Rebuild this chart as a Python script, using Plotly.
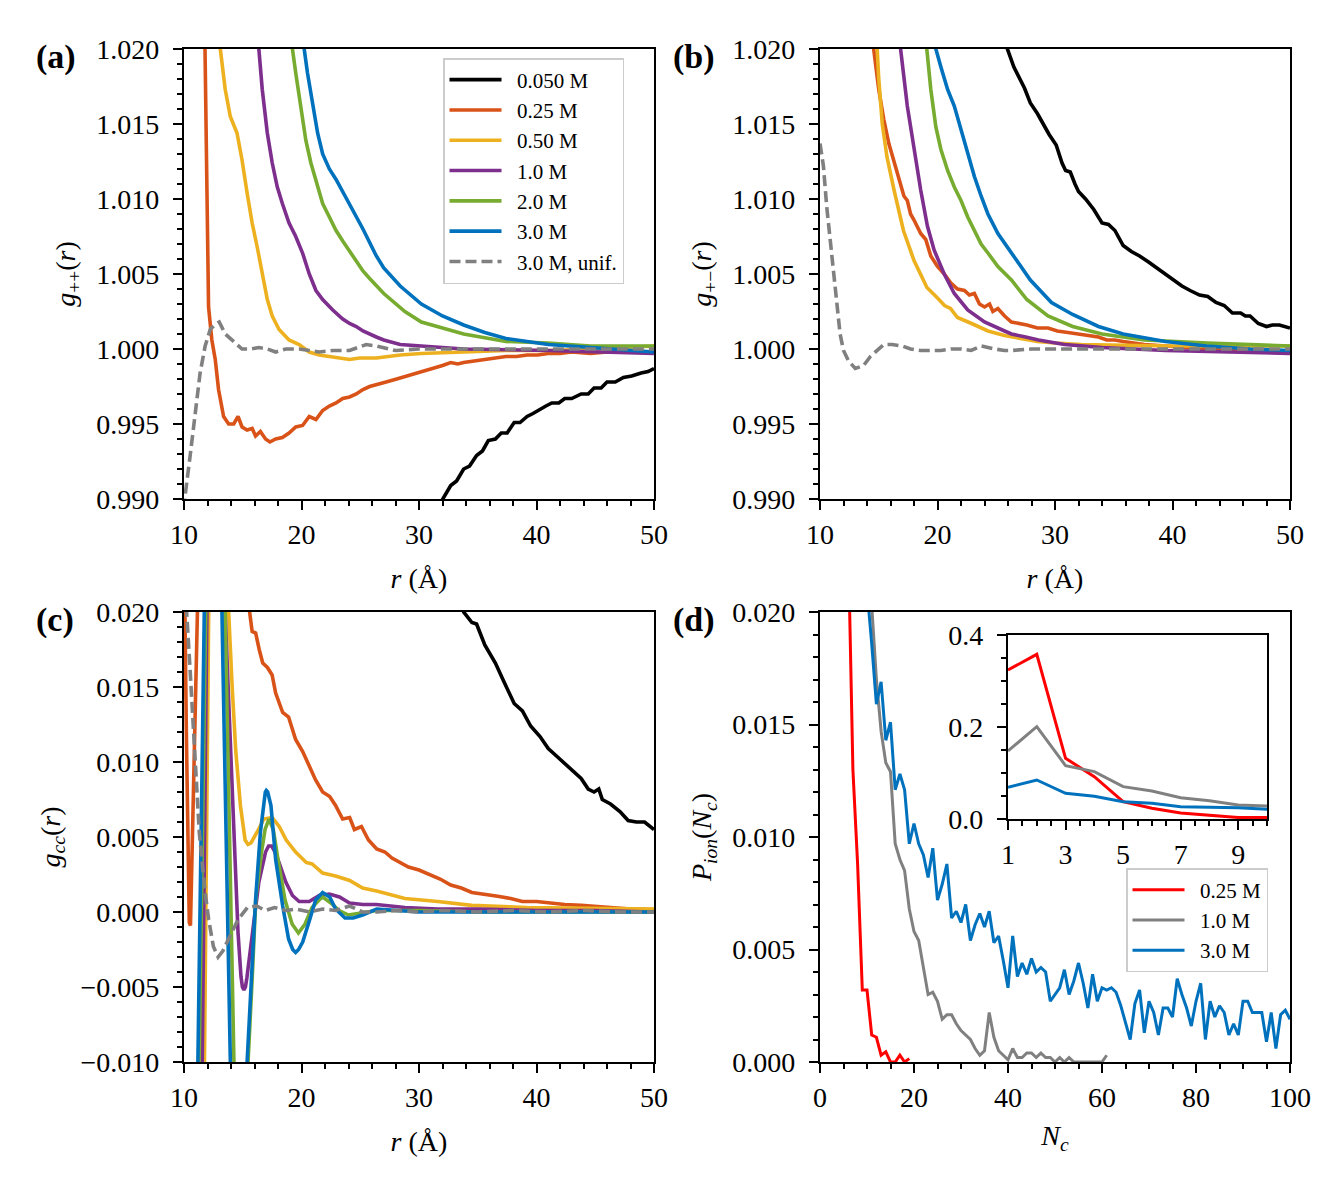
import plotly.graph_objects as go

# ---------------- data: panel (a) g_{++}(r) ----------------
A_R_BLACK = [31.8, 32.3, 32.7, 33.2, 33.8, 34.3, 34.9, 35.4, 35.9, 36.5, 37.0, 37.5, 38.1, 38.6, 39.2, 39.7, 40.3, 40.8, 41.3, 41.9, 42.4, 43.0, 43.8, 44.4, 44.9, 45.5, 46.0, 46.7, 47.4, 48.1, 48.9, 49.5, 50.0]
A_G_BLACK = [0.9897, 0.9904, 0.9909, 0.9912, 0.9920, 0.9922, 0.9929, 0.9932, 0.9939, 0.9940, 0.9944, 0.9944, 0.9951, 0.9951, 0.9955, 0.9957, 0.9960, 0.9962, 0.9964, 0.9964, 0.9967, 0.9967, 0.9970, 0.9970, 0.9974, 0.9974, 0.9978, 0.9978, 0.9981, 0.9982, 0.9984, 0.9985, 0.9987]
A_R_ORANGE = [11.7, 11.8, 11.94, 12.09, 12.37, 12.66, 12.94, 13.37, 13.8, 14.23, 14.6, 14.94, 15.37, 15.8, 16.09, 16.5, 16.94, 17.31, 17.8, 18.37, 18.94, 19.51, 20.09, 20.66, 21.23, 21.8, 22.37, 22.94, 23.51, 24.09, 24.66, 25.23, 25.8, 26.37, 27.2, 28.1, 29.0, 29.5, 30.6, 31.3, 32.0, 32.7, 33.3, 33.8, 34.6, 35.6, 36.5, 37.4, 38.3, 39.2, 40.1, 41.0, 42.0, 43.0, 44.6, 46.0, 47.5, 49.0, 50.0]
A_G_ORANGE = [1.0250, 1.0200, 1.0095, 1.0028, 1.0006, 0.9993, 0.9973, 0.9955, 0.9950, 0.9950, 0.9955, 0.9948, 0.9946, 0.9947, 0.9942, 0.9945, 0.9940, 0.9938, 0.9940, 0.9941, 0.9944, 0.9948, 0.9949, 0.9955, 0.9953, 0.9959, 0.9962, 0.9964, 0.9967, 0.9968, 0.9970, 0.9973, 0.9975, 0.9976, 0.9978, 0.9980, 0.9982, 0.9983, 0.9986, 0.9987, 0.9989, 0.9991, 0.9990, 0.9991, 0.9992, 0.9993, 0.9994, 0.9995, 0.9995, 0.9996, 0.9996, 0.9997, 0.9997, 0.9998, 0.9997, 0.9998, 0.9998, 0.9998, 0.9998]
A_R_YELLOW = [12.9, 13.09, 13.51, 13.94, 14.51, 14.94, 15.37, 15.8, 16.23, 16.66, 17.09, 17.51, 18.09, 18.94, 19.8, 20.66, 21.51, 22.37, 23.23, 24.09, 24.94, 26.37, 28.4, 30.2, 33.8, 37.4, 41.0, 45.0, 50.0]
A_G_YELLOW = [1.0260, 1.0200, 1.0173, 1.0155, 1.0144, 1.0126, 1.0104, 1.0084, 1.0068, 1.0050, 1.0033, 1.0022, 1.0013, 1.0006, 1.0003, 0.9998, 0.9996, 0.9995, 0.9994, 0.9993, 0.9994, 0.9994, 0.9996, 0.9997, 0.9998, 0.9999, 0.9999, 1.0000, 1.0002]
A_R_PURPLE = [16.2, 16.37, 16.66, 17.09, 17.51, 17.94, 18.37, 18.94, 19.51, 20.09, 20.66, 21.23, 21.8, 22.66, 23.51, 24.09, 24.66, 25.23, 26.37, 27.0, 28.4, 30.2, 33.8, 41.0, 45.0, 50.0]
A_G_PURPLE = [1.0225, 1.0200, 1.0173, 1.0144, 1.0124, 1.0108, 1.0097, 1.0084, 1.0075, 1.0064, 1.0050, 1.0039, 1.0033, 1.0026, 1.0020, 1.0017, 1.0015, 1.0012, 1.0008, 1.0006, 1.0003, 1.0002, 1.0000, 0.9999, 0.9998, 0.9997]
A_R_GREEN = [19.0, 19.23, 19.51, 19.94, 20.37, 20.8, 21.23, 21.8, 22.37, 22.94, 23.51, 24.09, 24.66, 25.23, 25.8, 26.37, 27.0, 28.8, 30.2, 32.0, 33.8, 37.4, 41.0, 44.6, 50.0]
A_G_GREEN = [1.0225, 1.0200, 1.0184, 1.0162, 1.0139, 1.0124, 1.0113, 1.0097, 1.0088, 1.0079, 1.0072, 1.0065, 1.0058, 1.0052, 1.0047, 1.0042, 1.0037, 1.0025, 1.0018, 1.0014, 1.0010, 1.0005, 1.0004, 1.0002, 1.0002]
A_R_BLUE = [20.0, 20.23, 20.51, 20.94, 21.37, 21.8, 22.37, 22.94, 23.51, 24.09, 24.66, 25.23, 25.8, 26.37, 27.0, 28.4, 30.2, 32.0, 33.8, 35.6, 37.4, 41.0, 44.6, 50.0]
A_G_BLUE = [1.0225, 1.0200, 1.0184, 1.0162, 1.0144, 1.0130, 1.0120, 1.0113, 1.0105, 1.0097, 1.0088, 1.0080, 1.0071, 1.0062, 1.0054, 1.0042, 1.0030, 1.0022, 1.0016, 1.0011, 1.0007, 1.0003, 1.0001, 0.9998]
A_R_UNIF = [10.0, 10.09, 10.51, 10.94, 11.37, 11.8, 12.23, 12.6, 13.0, 13.51, 14.23, 14.94, 15.66, 16.37, 17.09, 17.8, 18.66, 19.8, 20.66, 21.51, 22.66, 24.09, 25.51, 26.37, 28.0, 30.0, 33.0, 36.0, 40.0, 45.0, 50.0]
A_G_UNIF = [0.9893, 0.9902, 0.9928, 0.9957, 0.9984, 1.0002, 1.0013, 1.0016, 1.0018, 1.0010, 1.0005, 1.0000, 1.0000, 1.0001, 1.0000, 0.9998, 1.0000, 1.0000, 0.9999, 0.9998, 0.9999, 0.9999, 1.0003, 1.0002, 0.9999, 1.0000, 1.0000, 1.0000, 1.0000, 1.0000, 1.0000]

# ---------------- data: panel (b) g_{+-}(r) ----------------
B_R_BLACK = [25.8, 25.95, 26.5, 26.85, 27.4, 27.9, 28.5, 29.0, 29.5, 30.1, 30.6, 30.9, 31.3, 31.7, 32.0, 32.6, 33.3, 34.0, 34.55, 35.1, 35.8, 36.5, 37.2, 37.96, 38.7, 39.4, 40.1, 40.8, 41.5, 42.3, 43.0, 43.7, 44.4, 45.1, 45.8, 46.2, 46.6, 47.3, 48.0, 48.5, 49.1, 49.5, 50.0]
B_G_BLACK = [1.0205, 1.0200, 1.0188, 1.0183, 1.0174, 1.0164, 1.0157, 1.0150, 1.0143, 1.0136, 1.0124, 1.0119, 1.0118, 1.0110, 1.0105, 1.0100, 1.0093, 1.0084, 1.0083, 1.0079, 1.0069, 1.0065, 1.0062, 1.0058, 1.0054, 1.0050, 1.0046, 1.0042, 1.0039, 1.0036, 1.0035, 1.0031, 1.0029, 1.0024, 1.0024, 1.0022, 1.0022, 1.0017, 1.0015, 1.0016, 1.0016, 1.0015, 1.0014]
B_R_ORANGE = [14.4, 14.57, 15.0, 15.43, 15.86, 16.0, 16.43, 16.71, 17.14, 17.43, 17.71, 18.0, 18.57, 19.0, 19.43, 20.0, 20.57, 21.14, 21.71, 22.29, 22.71, 23.14, 23.57, 24.0, 24.43, 24.71, 25.14, 25.71, 26.29, 27.6, 28.5, 29.4, 30.2, 31.1, 32.0, 32.9, 33.7, 34.4, 35.1, 35.8, 36.7, 37.6, 39.4, 41.2, 43.0, 45.0, 46.6, 48.0, 50.0]
B_G_ORANGE = [1.0230, 1.0200, 1.0173, 1.0153, 1.0137, 1.0133, 1.0122, 1.0113, 1.0102, 1.0099, 1.0090, 1.0086, 1.0077, 1.0073, 1.0062, 1.0055, 1.0050, 1.0044, 1.0040, 1.0039, 1.0036, 1.0037, 1.0030, 1.0028, 1.0030, 1.0025, 1.0027, 1.0022, 1.0018, 1.0016, 1.0014, 1.0014, 1.0012, 1.0011, 1.0010, 1.0009, 1.0008, 1.0006, 1.0006, 1.0005, 1.0004, 1.0003, 1.0002, 1.0001, 1.0000, 0.9999, 0.9998, 0.9999, 0.9998]
B_R_YELLOW = [14.7, 14.85, 15.0, 15.3, 15.7, 16.3, 17.1, 18.0, 19.1, 20.0, 20.6, 21.1, 21.7, 22.9, 24.3, 25.7, 27.0, 28.5, 30.0, 32.2, 36.0, 40.0, 45.0, 50.0]
B_G_YELLOW = [1.0225, 1.0200, 1.0180, 1.0150, 1.0128, 1.0106, 1.0079, 1.0059, 1.0041, 1.0034, 1.0029, 1.0027, 1.0021, 1.0017, 1.0012, 1.0009, 1.0007, 1.0005, 1.0004, 1.0003, 1.00025, 1.0002, 1.0002, 1.0002]
B_R_PURPLE = [16.7, 16.86, 17.43, 18.0, 18.57, 19.14, 19.71, 20.57, 21.43, 22.57, 24.0, 25.71, 26.29, 27.5, 28.6, 30.8, 34.0, 39.4, 45.0, 50.0]
B_G_PURPLE = [1.0225, 1.0200, 1.0162, 1.0133, 1.0106, 1.0082, 1.0066, 1.0050, 1.0037, 1.0026, 1.0018, 1.0012, 1.0010, 1.0008, 1.0006, 1.0003, 1.0001, 0.9999, 0.9998, 0.9997]
B_R_GREEN = [18.9, 19.09, 19.43, 19.86, 20.29, 20.86, 21.43, 22.0, 22.57, 23.14, 23.71, 24.29, 25.14, 26.29, 27.6, 29.4, 31.5, 34.0, 37.6, 43.0, 50.0]
B_G_GREEN = [1.0225, 1.0200, 1.0173, 1.0148, 1.0133, 1.0119, 1.0108, 1.0099, 1.0088, 1.0079, 1.0070, 1.0064, 1.0055, 1.0046, 1.0033, 1.0022, 1.0015, 1.0010, 1.0006, 1.0004, 1.0002]
B_R_BLUE = [19.7, 19.86, 20.29, 20.86, 21.43, 22.0, 22.57, 23.14, 23.71, 24.29, 25.14, 26.29, 27.9, 29.7, 31.5, 33.7, 35.8, 39.4, 42.9, 46.6, 50.0]
B_G_BLUE = [1.0215, 1.0200, 1.0188, 1.0173, 1.0162, 1.0146, 1.0130, 1.0115, 1.0102, 1.0090, 1.0077, 1.0064, 1.0046, 1.0031, 1.0023, 1.0015, 1.0010, 1.0005, 1.0002, 1.0000, 0.9999]
B_R_UNIF = [10.0, 10.29, 10.57, 10.86, 11.14, 11.43, 11.71, 12.0, 12.43, 13.0, 13.71, 14.29, 14.86, 15.43, 16.14, 17.0, 17.71, 18.57, 19.43, 20.29, 21.14, 22.0, 22.86, 23.71, 24.86, 25.71, 26.29, 28.0, 30.0, 33.0, 36.0, 40.0, 45.0, 50.0]
B_G_UNIF = [1.0137, 1.0122, 1.0095, 1.0073, 1.0050, 1.0028, 1.0010, 0.9999, 0.9992, 0.9987, 0.9989, 0.9995, 0.9999, 1.0003, 1.0003, 1.0002, 1.0000, 0.9999, 0.9999, 0.9999, 1.0000, 1.0000, 0.9999, 1.0002, 1.0000, 0.9999, 0.9999, 1.0000, 1.0000, 1.0000, 1.0000, 1.0000, 1.0000, 1.0000]

# ---------------- data: panel (c) g_cc(r) ----------------
C_R_BLACK = [33.5, 33.8, 34.5, 34.9, 35.6, 36.5, 37.2, 38.1, 38.8, 39.5, 40.3, 41.0, 41.7, 42.4, 43.1, 43.8, 44.4, 44.9, 45.3, 45.6, 46.3, 47.1, 47.8, 48.5, 49.2, 50.0]
C_G_BLACK = [0.0215, 0.0200, 0.0193, 0.0192, 0.0178, 0.0166, 0.0154, 0.0139, 0.0134, 0.0124, 0.0117, 0.0109, 0.0104, 0.0099, 0.0094, 0.0089, 0.0082, 0.0080, 0.0082, 0.0075, 0.0072, 0.0067, 0.0061, 0.0060, 0.0060, 0.0055]
C_R_ORANGE = [10.0, 10.05, 10.2, 10.35, 10.45, 10.55, 10.65, 10.85, 11.0, 11.2, 12.0, 13.5, 15.0, 15.5, 15.8, 16.1, 16.4, 16.7, 17.1, 17.5, 17.8, 18.4, 18.9, 19.5, 20.1, 20.7, 21.2, 21.8, 22.4, 22.9, 23.5, 24.1, 24.5, 25.1, 25.7, 26.4, 27.1, 27.7, 28.4, 29.1, 30.0, 30.9, 31.8, 32.7, 33.6, 34.5, 35.6, 36.7, 37.8, 38.8, 40.0, 41.0, 42.4, 43.8, 45.0, 46.3, 48.0, 50.0]
C_G_ORANGE = [0.0350, 0.0220, 0.0120, 0.0030, -0.0007, -0.0009, 0.0030, 0.0100, 0.0160, 0.0220, 0.0500, 0.0500, 0.0250, 0.0205, 0.0187, 0.0186, 0.0175, 0.0166, 0.0163, 0.0158, 0.0146, 0.0133, 0.0130, 0.0115, 0.0107, 0.0096, 0.0088, 0.0080, 0.0077, 0.0071, 0.0062, 0.0063, 0.0055, 0.0057, 0.0048, 0.0042, 0.0040, 0.0036, 0.0033, 0.0030, 0.0028, 0.0025, 0.0022, 0.0018, 0.0016, 0.0013, 0.0012, 0.00105, 0.0009, 0.0007, 0.0007, 0.0006, 0.0005, 0.00044, 0.0004, 0.0003, 0.0002, 0.00014]
C_R_YELLOW = [11.5, 11.75, 12.1, 12.4, 13.0, 13.5, 13.8, 14.1, 14.4, 14.8, 15.2, 15.45, 15.7, 16.2, 16.8, 17.5, 18.1, 18.7, 19.5, 20.4, 20.9, 21.8, 22.9, 24.1, 25.2, 26.4, 28.8, 31.6, 34.5, 39.2, 44.0, 50.0]
C_G_YELLOW = [-0.0300, -0.0100, 0.0200, 0.0350, 0.0500, 0.0300, 0.0200, 0.0150, 0.0108, 0.0071, 0.0048, 0.0045, 0.0046, 0.0053, 0.0062, 0.0063, 0.0057, 0.0048, 0.0040, 0.0033, 0.0032, 0.0026, 0.0024, 0.0021, 0.0016, 0.0014, 0.0009, 0.0007, 0.00044, 0.0003, 0.00025, 0.0002]
C_R_PURPLE = [11.3, 11.55, 11.95, 12.2, 12.8, 13.2, 13.5, 14.14, 14.6, 14.85, 14.97, 15.1, 15.23, 15.35, 15.8, 16.37, 16.94, 17.2, 17.46, 17.75, 18.09, 18.66, 19.23, 19.8, 20.66, 21.51, 22.37, 23.23, 24.09, 25.23, 26.37, 28.8, 31.6, 35.0, 40.0, 45.0, 50.0]
C_G_PURPLE = [-0.0250, -0.0100, 0.0200, 0.0330, 0.0550, 0.0350, 0.0200, 0.0075, -0.0014, -0.0043, -0.0050, -0.0052, -0.0050, -0.0044, -0.0014, 0.0020, 0.0040, 0.0044, 0.0044, 0.0040, 0.0033, 0.0020, 0.0011, 0.0007, 0.0007, 0.0011, 0.0012, 0.0010, 0.0006, 0.0005, 0.0005, 0.0003, 0.0002, 0.0002, 0.0001, 0.0001, 0.0000]
C_R_GREEN = [11.1, 11.3, 11.85, 12.1, 12.7, 13.2, 13.5, 14.25, 14.6, 15.0, 15.3, 15.45, 15.8, 16.12, 16.6, 16.9, 17.23, 17.6, 18.0, 18.6, 19.2, 19.74, 20.3, 20.9, 21.5, 21.8, 22.5, 23.2, 24.0, 25.0, 26.4, 30.0, 35.0, 40.0, 45.0, 50.0]
C_G_GREEN = [-0.0200, -0.0100, 0.0200, 0.0350, 0.0600, 0.0350, 0.0200, -0.0100, -0.0200, -0.0220, -0.0150, -0.0100, -0.0045, 0.0010, 0.0040, 0.0055, 0.0062, 0.0055, 0.0035, 0.0008, -0.0008, -0.0014, -0.0008, 0.0003, 0.0008, 0.0010, 0.0006, 0.0001, -0.0002, -0.0001, 0.0001, 0.0001, 0.0000, 0.0000, 0.0000, 0.0000]
C_R_BLUE = [11.0, 11.17, 11.74, 12.0, 12.6, 13.0, 13.23, 13.94, 14.3, 14.7, 15.1, 15.37, 15.7, 16.09, 16.5, 16.8, 16.92, 17.0, 17.12, 17.4, 17.8, 18.4, 18.9, 19.25, 19.5, 19.75, 20.1, 20.7, 21.2, 21.8, 22.4, 22.9, 23.7, 24.4, 25.2, 26.4, 28.0, 30.0, 35.0, 40.0, 45.0, 50.0]
C_G_BLUE = [-0.0200, -0.0100, 0.0200, 0.0350, 0.0600, 0.0400, 0.0200, -0.0100, -0.0250, -0.0300, -0.0200, -0.0100, -0.0055, 0.0008, 0.0053, 0.0075, 0.0080, 0.0081, 0.0080, 0.0071, 0.0035, 0.0004, -0.0018, -0.0025, -0.0027, -0.0025, -0.0020, -0.0005, 0.0008, 0.0013, 0.0010, 0.0002, -0.0004, -0.0004, -0.0002, 0.0002, 0.0001, 0.0000, 0.0000, 0.0000, 0.0000, 0.0000]
C_R_UNIF = [10.0, 10.2, 10.5, 10.9, 11.3, 11.8, 12.1, 12.5, 12.9, 13.3, 13.9, 14.6, 15.4, 16.2, 16.9, 17.7, 18.7, 19.5, 20.7, 21.8, 22.9, 24.1, 25.2, 26.4, 28.0, 30.0, 32.0, 35.0, 38.0, 41.0, 44.0, 47.0, 50.0]
C_G_UNIF = [0.0300, 0.0203, 0.0164, 0.0108, 0.0053, 0.0013, -0.0005, -0.0023, -0.0030, -0.0026, -0.0016, -0.0005, 0.0003, 0.0004, 0.0001, 0.0003, 0.0001, 0.0002, 0.0000, 0.0002, 0.0001, 0.0004, 0.0000, 0.0000, 0.0001, 0.0000, 0.0001, 0.0000, 0.0001, 0.0000, 0.0001, 0.0000, 0.0000]

# ---------------- data: panel (d) P_ion(N_c) ----------------
N_025 = [1, 2, 3, 4, 5, 6, 7, 8, 9, 10, 11, 12, 13, 14, 15, 16, 17, 18, 19]
P_025 = [0.324, 0.358, 0.132, 0.092, 0.0377, 0.0232, 0.0130, 0.0088, 0.0032, 0.0032, 0.0012, 0.0011, 0.0003, 0.00045, 0.0, 0.0, 0.0003, 0.0, 0.00015]
N_10 = [1, 2, 3, 4, 5, 6, 7, 8, 9, 10, 11, 12, 13, 14, 15, 16, 17, 18, 19, 20,
        21, 22, 23, 24, 25, 26, 27, 28, 29, 30, 31, 32, 33, 34, 35, 36, 37, 38, 39, 40,
        41, 42, 43, 44, 45, 46, 47, 48, 49, 50, 51, 52, 53, 54, 55, 56, 57, 58, 59, 60, 61]
P_10 = [0.148, 0.2007, 0.116, 0.103, 0.0703, 0.0609, 0.0464, 0.0399, 0.0304, 0.0268,
        0.0203, 0.0170, 0.0147, 0.0133, 0.0129, 0.0097, 0.0090, 0.0085, 0.0068, 0.0058,
        0.0054, 0.0042, 0.0030, 0.0031, 0.0027, 0.0019, 0.0021, 0.0021, 0.0017, 0.0014,
        0.0012, 0.0010, 0.0006, 0.0003, 0.0005, 0.0022, 0.0011, 0.0005, 0.0003, 0.0001,
        0.0006, 0.0002, 0.0002, 0.0004, 0.0004, 0.0002, 0.0004, 0.0002, 0.0002, 0.0000,
        0.0002, 0.0000, 0.0002, 0.0000, 0.0000, 0.0000, 0.0000, 0.0000, 0.0000, 0.0000, 0.0003]
N_30 = [1, 2, 3, 4, 5, 6, 7, 8, 9, 10, 11, 12, 13, 14, 15, 16, 17, 18, 19, 20,
        21, 22, 23, 24, 25, 26, 27, 28, 29, 30, 31, 32, 33, 34, 35, 36, 37, 38, 39, 40,
        41, 42, 43, 44, 45, 46, 47, 48, 49, 50, 51, 52, 53, 54, 55, 56, 57, 58, 59, 60,
        61, 62, 63, 64, 65, 66, 67, 68, 69, 70, 71, 72, 73, 74, 75, 76, 77, 78, 79, 80,
        81, 82, 83, 84, 85, 86, 87, 88, 89, 90, 91, 92, 93, 94, 95, 96, 97, 98, 99, 100]
P_30 = [0.0688, 0.0848, 0.0558, 0.0493, 0.0377, 0.0340, 0.0268, 0.0260, 0.0246, 0.0210,
        0.0186, 0.0159, 0.0169, 0.0143, 0.0151, 0.0121, 0.0128, 0.0121, 0.0097, 0.0106,
        0.0097, 0.0092, 0.0082, 0.0095, 0.0072, 0.0079, 0.0088, 0.0064, 0.0067, 0.0062,
        0.0070, 0.0054, 0.0061, 0.0066, 0.0060, 0.0067, 0.0053, 0.0056, 0.0045, 0.0033,
        0.0056, 0.0038, 0.0044, 0.0039, 0.0046, 0.0040, 0.0042, 0.0040, 0.0027, 0.0030,
        0.0033, 0.0041, 0.0030, 0.0036, 0.0044, 0.0035, 0.0024, 0.0039, 0.0027, 0.0033,
        0.0032, 0.0033, 0.0031, 0.0025, 0.0018, 0.0010, 0.0026, 0.0032, 0.0013, 0.0027,
        0.0022, 0.0012, 0.0024, 0.0024, 0.0020, 0.0037, 0.0030, 0.0024, 0.0016, 0.0027,
        0.0035, 0.0010, 0.0027, 0.0020, 0.0025, 0.0022, 0.0012, 0.0017, 0.0012, 0.0027,
        0.0027, 0.0022, 0.0022, 0.0022, 0.0009, 0.0022, 0.0006, 0.0021, 0.0023, 0.0019]

LABELS_A = ["0.050 M", "0.25 M", "0.50 M", "1.0 M", "2.0 M", "3.0 M", "3.0 M, unif."]
LABELS_D = ["0.25 M", "1.0 M", "3.0 M"]

# ---------------- styling ----------------
# The page body has an 8 px margin, so the figure is sized to fill the
# window exactly and positions below are given in window pixels.
OFF = 8
W, H = 1336 - 2 * OFF, 1180 - 2 * OFF
FONT = "Liberation Serif"
C_BLACK, C_ORANGE, C_YELLOW = "#000000", "#D95319", "#EDB120"
C_PURPLE, C_GREEN, C_BLUE, C_GRAY = "#7E2F8E", "#77AC30", "#0072BD", "#808080"
C_RED = "#FF0000"
LW = 3.6
DASH = "11px,5px"
GAP = "\u00a0\u00a0"  # extra gap between legend line sample and its label

fig = go.Figure()


def add(xs, ys, color, name, xa, ya, dash=None, legend=None, show=False, width=LW):
    fig.add_trace(go.Scatter(
        x=xs, y=ys, mode="lines", name=name, xaxis=xa, yaxis=ya,
        line=dict(color=color, width=width, dash=dash),
        showlegend=show, legend=legend, hoverinfo="skip"))


series_a = [(A_R_BLACK, A_G_BLACK, C_BLACK), (A_R_ORANGE, A_G_ORANGE, C_ORANGE),
            (A_R_YELLOW, A_G_YELLOW, C_YELLOW), (A_R_PURPLE, A_G_PURPLE, C_PURPLE),
            (A_R_GREEN, A_G_GREEN, C_GREEN), (A_R_BLUE, A_G_BLUE, C_BLUE),
            (A_R_UNIF, A_G_UNIF, C_GRAY)]
series_b = [(B_R_BLACK, B_G_BLACK, C_BLACK), (B_R_ORANGE, B_G_ORANGE, C_ORANGE),
            (B_R_YELLOW, B_G_YELLOW, C_YELLOW), (B_R_PURPLE, B_G_PURPLE, C_PURPLE),
            (B_R_GREEN, B_G_GREEN, C_GREEN), (B_R_BLUE, B_G_BLUE, C_BLUE),
            (B_R_UNIF, B_G_UNIF, C_GRAY)]
series_c = [(C_R_BLACK, C_G_BLACK, C_BLACK), (C_R_ORANGE, C_G_ORANGE, C_ORANGE),
            (C_R_YELLOW, C_G_YELLOW, C_YELLOW), (C_R_PURPLE, C_G_PURPLE, C_PURPLE),
            (C_R_GREEN, C_G_GREEN, C_GREEN), (C_R_BLUE, C_G_BLUE, C_BLUE),
            (C_R_UNIF, C_G_UNIF, C_GRAY)]

for i, (xs, ys, col) in enumerate(series_a):
    add(xs, ys, col, GAP + LABELS_A[i], "x", "y", dash=DASH if i == 6 else None,
        legend="legend", show=True)
for i, (xs, ys, col) in enumerate(series_b):
    add(xs, ys, col, LABELS_A[i], "x2", "y2", dash=DASH if i == 6 else None)
for i, (xs, ys, col) in enumerate(series_c):
    add(xs, ys, col, LABELS_A[i], "x3", "y3", dash=DASH if i == 6 else None)

series_d = [(N_025, P_025, C_RED), (N_10, P_10, C_GRAY), (N_30, P_30, C_BLUE)]
for i, (xs, ys, col) in enumerate(series_d):
    add(xs, ys, col, GAP + LABELS_D[i], "x4", "y4", legend="legend2", show=True,
        width=3.0)
for i, (xs, ys, col) in enumerate(series_d):
    add(xs, ys, col, LABELS_D[i], "x5", "y5", width=3.0)

TICKFONT = dict(family=FONT, size=28, color="black")
TITLEFONT = dict(family=FONT, size=28, color="black")


def axis(domain, anchor, rng, dtick, mdtick, title=None, fmt=None, tick0=None,
         standoff=10, lstand=0, tlen=9, mlen=5):
    d = dict(domain=domain, anchor=anchor, range=rng, dtick=dtick,
             showline=True, linecolor="black", linewidth=2.4, mirror=True,
             ticks="outside", ticklen=tlen, tickwidth=2.2, tickcolor="black",
             showgrid=False, zeroline=False, tickfont=TICKFONT,
             ticklabelstandoff=lstand,
             minor=dict(dtick=mdtick, ticks="outside", ticklen=mlen, tickwidth=1.8,
                        tickcolor="black", showgrid=False),
             automargin=False)
    if tick0 is not None:
        d["tick0"] = tick0
        d["minor"]["tick0"] = tick0
    if fmt:
        d["tickformat"] = fmt
    if title:
        d["title"] = dict(text=title, font=TITLEFONT, standoff=standoff)
    return d


def xd(l, r):
    return [(l - OFF) / W, (r - OFF) / W]


def yd(top, bot):
    return [1 - (bot - OFF) / H, 1 - (top - OFF) / H]


def px(x, y):
    return (x - OFF) / W, 1 - (y - OFF) / H


RTITLE = "<i>r</i> (Å)"
EPS = 1e-7
XST, YST, YLS = 20, 12, 8
LEGFONT = dict(family=FONT, size=21, color="black")
layout = dict(
    width=W, height=H, margin=dict(l=0, r=0, t=0, b=0),
    paper_bgcolor="white", plot_bgcolor="white",
    font=dict(family=FONT, color="black"),
    xaxis=axis(xd(184, 654), "y", [10, 50], 10, 2, RTITLE, standoff=XST),
    yaxis=axis(yd(49, 499), "x", [0.99 - EPS, 1.02 + EPS], 0.005, 0.001,
               "<i>g</i><sub>++</sub>(<i>r</i>)", ".3f", standoff=YST, lstand=YLS),
    xaxis2=axis(xd(820, 1290), "y2", [10, 50], 10, 2, RTITLE, standoff=XST),
    yaxis2=axis(yd(49, 499), "x2", [0.99 - EPS, 1.02 + EPS], 0.005, 0.001,
                "<i>g</i><sub>+−</sub>(<i>r</i>)", ".3f", standoff=YST, lstand=YLS),
    xaxis3=axis(xd(184, 654), "y3", [10, 50], 10, 2, RTITLE, standoff=XST),
    yaxis3=axis(yd(612, 1062), "x3", [-0.01 - EPS, 0.02 + EPS], 0.005, 0.001,
                "<i>g<sub>cc</sub></i>(<i>r</i>)", ".3f", standoff=YST, lstand=YLS),
    xaxis4=axis(xd(820, 1290), "y4", [0, 100], 20, 5, "<i>N<sub>c</sub></i>",
                standoff=14),
    yaxis4=axis(yd(612, 1062), "x4", [0 - EPS, 0.02 + EPS], 0.005, 0.001,
                "<i>P<sub>ion</sub></i>(<i>N<sub>c</sub></i>)", ".3f", standoff=YST,
                lstand=YLS),
    xaxis5=axis(xd(1008, 1267), "y5", [1, 10], 2, 0.5, tick0=1),
    yaxis5=axis(yd(635, 819), "x5", [0 - EPS, 0.4 + EPS], 0.2, 0.05, fmt=".1f",
                lstand=YLS),
    legend=dict(x=px(443, 58)[0], y=px(443, 58)[1], xanchor="left", yanchor="top",
                bgcolor="rgba(255,255,255,0.85)", bordercolor="#cccccc", borderwidth=1.5,
                font=LEGFONT, itemwidth=52, tracegroupgap=0),
    legend2=dict(x=px(1126, 868)[0], y=px(1126, 868)[1], xanchor="left", yanchor="top",
                 bgcolor="rgba(255,255,255,0.85)", bordercolor="#cccccc", borderwidth=1.5,
                 font=LEGFONT, itemwidth=52, tracegroupgap=0),
    showlegend=True,
)
fig.update_layout(**layout)

for txt, x, y in [("(a)", 34, 57), ("(b)", 671, 57), ("(c)", 34, 620), ("(d)", 671, 620)]:
    ax, ay = px(x, y)
    fig.add_annotation(text="<b>" + txt + "</b>", x=ax, y=ay, xref="paper",
                       yref="paper", xanchor="left", yanchor="middle", showarrow=False,
                       font=dict(family=FONT, size=34, color="black"))

fig.write_html("out.html")
